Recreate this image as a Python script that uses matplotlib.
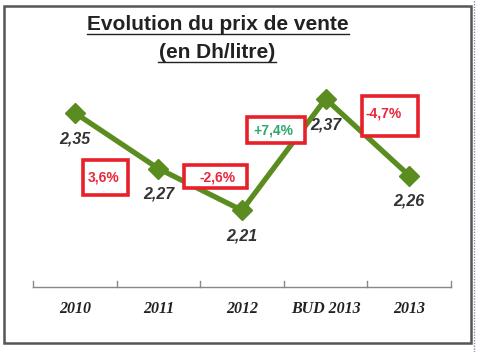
import matplotlib.pyplot as plt
from matplotlib.patches import Rectangle
from matplotlib.lines import Line2D

# Data
categories = ["2010", "2011", "2012", "BUD 2013", "2013"]
prices = [2.35, 2.27, 2.21, 2.37, 2.26]
price_labels = ["2,35", "2,27", "2,21", "2,37", "2,26"]
changes = ["3,6%", "-2,6%", "+7,4%", "-4,7%"]
change_colors = ["#e8283c", "#e8283c", "#2fa86a", "#e8283c"]

fig = plt.figure(figsize=(4.81, 3.52), dpi=100)
W, H = 481, 352


def px(x0, y0):
    # pixel position (from top left) -> figure fraction
    return x0 / W, 1 - y0 / H


# outer frame
fig.patches.append(Rectangle(px(4, 343), 467 / W, 337 / H, transform=fig.transFigure,
                             fill=False, edgecolor="#555555", linewidth=1.8))
# dotted line on the right
fig.lines.append(Line2D([474 / W, 474 / W], [0, 1], transform=fig.transFigure,
                        color="#8090b0", linestyle=(0, (1, 1)), linewidth=1))

# title
fig.text(*px(218, 24), "Evolution du prix de vente", ha="center", va="center",
         fontsize=15, fontweight="bold", family="Liberation Sans", color="#222222")
fig.text(*px(217, 52), "(en Dh/litre)", ha="center", va="center",
         fontsize=15, fontweight="bold", family="Liberation Sans", color="#222222")
# underlines
fig.lines.append(Line2D([87 / W, 349 / W], [1 - 34 / H] * 2, transform=fig.transFigure, color="#222222", lw=1))
fig.lines.append(Line2D([158 / W, 276 / W], [1 - 62 / H] * 2, transform=fig.transFigure, color="#222222", lw=1))

ax = fig.add_axes([33 / W, 1 - 287 / H, 418 / W, (287 - 78) / H])
x = list(range(len(categories)))
ax.plot(x, prices, color="#5b8c1f", linewidth=3.8, marker="D", markersize=10,
        markerfacecolor="#5b8c1f", markeredgecolor="#5b8c1f", zorder=3)

for xi, p, lab in zip(x, prices, price_labels):
    ax.annotate(lab, (xi, p), xytext=(0, -18.5), textcoords="offset points", ha="center", va="center",
                fontsize=11.5, fontweight="bold", style="italic", family="Liberation Sans", color="#333333")

# change boxes (pixel rect x, y, w, h) and text centres
boxes = [(83, 160, 45, 35), (184, 165, 63, 23), (247, 117, 58, 26), (362, 96, 56, 40)]
text_pos = [(104, 177), (218, 177), (273, 131), (384, 113)]
for (bx, by, bw, bh), (tx, ty), txt, c in zip(boxes, text_pos, changes, change_colors):
    fig.patches.append(Rectangle(px(bx, by + bh), bw / W, bh / H, transform=fig.transFigure,
                                 facecolor="white", edgecolor="#e8202a", linewidth=2.6, zorder=5))
    fig.text(*px(tx, ty), txt, ha="center", va="center", fontsize=10, fontweight="bold",
             family="Liberation Sans", color=c, zorder=6)

ax.set_xlim(-0.5, 4.5)
ax.set_ylim(2.1, 2.4)
ax.set_yticks([])
ax.set_xticks(x)
ax.set_xticklabels(categories, fontsize=11.5, fontweight="bold", style="italic",
                   family="Liberation Serif", color="#222222")
ax.tick_params(axis="x", length=0, pad=10)
# boundary ticks pointing up
for b in [-0.5, 0.5, 1.5, 2.5, 3.5, 4.5]:
    ax.plot([b, b], [2.1, 2.1 + 0.009], color="#888888", lw=1, clip_on=False)
for s in ["top", "left", "right"]:
    ax.spines[s].set_visible(False)
ax.spines["bottom"].set_color("#888888")
ax.spines["bottom"].set_linewidth(1)
ax.patch.set_alpha(0)

fig.savefig("out.png", dpi=100)
